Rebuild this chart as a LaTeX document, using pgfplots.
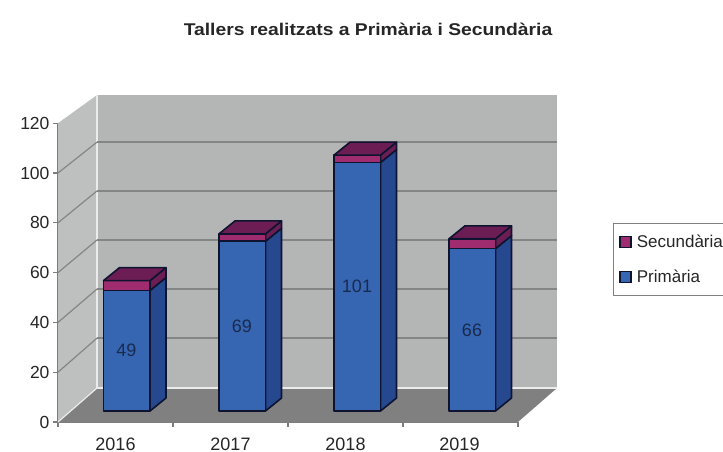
\documentclass[border=0pt]{standalone}
\usepackage{fontspec}
\setmainfont{Liberation Sans}
\usepackage{pgfplots}
\pgfplotsset{compat=1.18}
\definecolor{wallback}{RGB}{180,182,182}
\definecolor{wallleft}{RGB}{190,191,191}
\definecolor{floorgrey}{RGB}{128,128,128}
\definecolor{gridgrey}{RGB}{132,134,134}
\definecolor{axisgrey}{RGB}{125,125,125}
\definecolor{bluefront}{RGB}{54,102,178}
\definecolor{blueside}{RGB}{38,72,142}
\definecolor{purplefront}{RGB}{158,44,110}
\definecolor{purpledark}{RGB}{108,30,84}
\definecolor{barline}{RGB}{14,20,48}
\definecolor{labelblue}{RGB}{25,42,80}

% one 3D bar: left edge of the front face, Primaria, Secundaria
\newcommand{\stackedbar}[3]{%
  \pgfmathsetmacro{\xa}{#1}
  \pgfmathsetmacro{\xb}{#1+46.5}
  \pgfmathsetmacro{\xc}{#1+46.5+16}
  \pgfmathsetmacro{\xd}{#1+16}
  \pgfmathsetmacro{\ya}{4.42}
  \pgfmathsetmacro{\yb}{4.42+0.988*#2}
  \pgfmathsetmacro{\yc}{4.42+0.988*(#2+#3)}
  \pgfmathsetmacro{\dd}{5.2}
  \pgfmathsetmacro{\yaa}{\ya+\dd}
  \pgfmathsetmacro{\ybb}{\yb+\dd}
  \pgfmathsetmacro{\ycc}{\yc+\dd}
  \pgfmathsetmacro{\xm}{#1+23}
  \pgfmathsetmacro{\ym}{(\ya+\yb)/2}
  \addplot[forget plot, fill=blueside, draw=barline, line width=1.6pt, line join=round]
    coordinates {(\xb,\ya) (\xc,\yaa) (\xc,\ybb) (\xb,\yb)} -- cycle;
  \addplot[forget plot, fill=bluefront, draw=barline, line width=1.6pt, line join=round]
    coordinates {(\xa,\ya) (\xb,\ya) (\xb,\yb) (\xa,\yb)} -- cycle;
  \addplot[forget plot, fill=purpledark, draw=barline, line width=1.6pt, line join=round]
    coordinates {(\xb,\yb) (\xc,\ybb) (\xc,\ycc) (\xb,\yc)} -- cycle;
  \addplot[forget plot, fill=purplefront, draw=barline, line width=1.6pt, line join=round]
    coordinates {(\xa,\yb) (\xb,\yb) (\xb,\yc) (\xa,\yc)} -- cycle;
  \addplot[forget plot, fill=purpledark, draw=barline, line width=1.6pt, line join=round]
    coordinates {(\xa,\yc) (\xb,\yc) (\xc,\ycc) (\xd,\ycc)} -- cycle;
  \addplot[forget plot, draw=none, nodes near coords, point meta=explicit symbolic,
    every node near coord/.append style={anchor=center, text=labelblue, font=\fontsize{18}{20}\selectfont}]
    coordinates {(\xm,\ym) [#2]};
}

\begin{document}
\begin{tikzpicture}
  \path[use as bounding box] (0pt,0pt) rectangle (723pt,452pt);
  \begin{axis}[at={(58pt,30pt)}, anchor=south west, scale only axis,
    width=460pt, height=298.8pt, xmin=58, xmax=518, ymin=0, ymax=120,
    clip=false, axis x line*=bottom, axis y line*=left,
    axis line style={draw=axisgrey, line width=1.5pt, -},
    tick style={draw=axisgrey, line width=1.2pt},
    major tick length=5pt,
    tick align=outside,
    xtick={58,173,288,403,518},
    xticklabels={},
    ytick={0,20,40,60,80,100,120},
    tick label style={font=\fontsize{17.5}{20}\selectfont, text=black!85},
    /pgf/number format/assume math mode=true,
    title style={at={(0.674,1.295)}, anchor=center, xscale=1.135,
      font=\bfseries\fontsize{17}{19}\selectfont, text=black!85},
    title={Tallers realitzats a Primària i Secundària},
    legend style={at={(1.2065,0.6656)}, anchor=north west, draw=gray, line width=1pt,
      font=\fontsize{17}{19}\selectfont, text=black!85, fill=white,
      inner xsep=6pt, inner ysep=9.5pt, row sep=17pt},
    legend cell align=left,
    legend image code/.code={\path (0pt,0pt) (14pt,0pt); \draw[#1] (0pt,-5.5pt) rectangle (11pt,5.5pt);},
  ]
    % walls and floor
    \addplot[forget plot, fill=wallleft, draw=none]
      coordinates {(58,120) (97,131.3) (97,13.65) (58,0)} -- cycle;
    \addplot[forget plot, fill=wallback, draw=none]
      coordinates {(97,131.3) (557,131.3) (557,13.65) (97,13.65)} -- cycle;
    \addplot[forget plot, fill=floorgrey, draw=none]
      coordinates {(58,0) (518,0) (557,13.65) (97,13.65)} -- cycle;
    \addplot[forget plot, draw=white!92!black, line width=2.5pt]
      coordinates {(97,131.3) (97,13.65) (557,13.65)};
    \addplot[forget plot, draw=white!92!black, line width=1.2pt]
      coordinates {(58,0) (97,13.65)};
    % gridlines on the back wall
    \addplot[forget plot, draw=gridgrey, line width=1.8pt] coordinates {(97,112.4) (557,112.4)};
    \addplot[forget plot, draw=gridgrey, line width=1.8pt] coordinates {(97,92.8) (557,92.8)};
    \addplot[forget plot, draw=gridgrey, line width=1.8pt] coordinates {(97,73.1) (557,73.1)};
    \addplot[forget plot, draw=gridgrey, line width=1.8pt] coordinates {(97,53.4) (557,53.4)};
    \addplot[forget plot, draw=gridgrey, line width=1.8pt] coordinates {(97,33.7) (557,33.7)};
    % gridlines on the left wall
    \addplot[forget plot, draw=gridgrey, line width=1.2pt] coordinates {(58,100) (97,112.4)};
    \addplot[forget plot, draw=gridgrey, line width=1.2pt] coordinates {(58,80) (97,92.8)};
    \addplot[forget plot, draw=gridgrey, line width=1.2pt] coordinates {(58,60) (97,73.1)};
    \addplot[forget plot, draw=gridgrey, line width=1.2pt] coordinates {(58,40) (97,53.4)};
    \addplot[forget plot, draw=gridgrey, line width=1.2pt] coordinates {(58,20) (97,33.7)};
    % bars
    \stackedbar{103.5}{49}{4}
    \stackedbar{219}{69}{3}
    \stackedbar{334}{101}{3}
    \stackedbar{449}{66}{4}
    % year labels and legend
    \addplot[forget plot, draw=none, nodes near coords, point meta=explicit symbolic,
      every node near coord/.append style={anchor=center, inner ysep=0pt, text=black!85, font=\fontsize{18}{20}\selectfont}]
      coordinates {(115.5,-9) [2016] (230.5,-9) [2017] (345.5,-9) [2018] (459.5,-9) [2019]};
    \addlegendimage{fill=purplefront, draw=barline, line width=1.4pt}
    \addlegendentry{Secundària}
    \addlegendimage{fill=bluefront, draw=barline, line width=1.4pt}
    \addlegendentry{Primària}
  \end{axis}
\end{tikzpicture}
\end{document}
